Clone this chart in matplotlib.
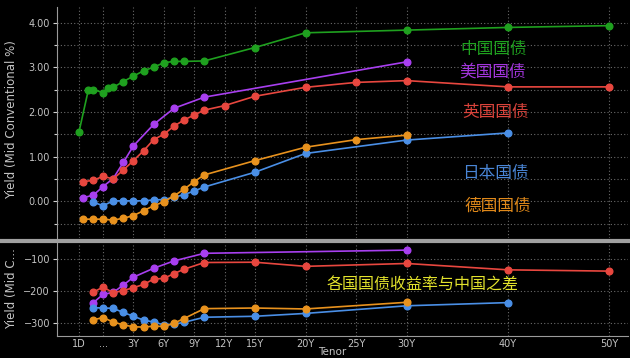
import numpy as np
import matplotlib
matplotlib.use("Agg")
import matplotlib.pyplot as plt
from matplotlib.lines import Line2D

# ---------------- data ----------------
tenor_years = {'1D': 1/365, '1M': 1/12, '2M': 2/12, '3M': 0.25, '6M': 0.5, '9M': 0.75,
               '1Y': 1, '2Y': 2, '3Y': 3, '4Y': 4, '5Y': 5, '6Y': 6, '7Y': 7, '8Y': 8,
               '9Y': 9, '10Y': 10, '12Y': 12, '15Y': 15, '20Y': 20, '25Y': 25,
               '30Y': 30, '40Y': 40, '50Y': 50}

china_tenors = ['1D', '2M', '3M', '6M', '9M', '1Y', '2Y', '3Y', '4Y', '5Y', '6Y', '7Y', '8Y',
                '10Y', '15Y', '20Y', '30Y', '40Y', '50Y']
china = [1.56, 2.50, 2.50, 2.43, 2.53, 2.55, 2.68, 2.80, 2.92, 3.00, 3.10, 3.13, 3.13,
         3.14, 3.44, 3.77, 3.83, 3.89, 3.93]

us_tenors = ['1M', '3M', '6M', '1Y', '2Y', '3Y', '5Y', '7Y', '10Y', '30Y']
us = [0.08, 0.14, 0.33, 0.51, 0.87, 1.24, 1.72, 2.08, 2.33, 3.12]

uk_tenors = ['1M', '3M', '6M', '1Y', '2Y', '3Y', '4Y', '5Y', '6Y', '7Y', '8Y', '9Y', '10Y',
             '12Y', '15Y', '20Y', '25Y', '30Y', '40Y', '50Y']
uk = [0.44, 0.47, 0.56, 0.50, 0.70, 0.91, 1.13, 1.38, 1.50, 1.68, 1.82, 1.93, 2.04,
      2.14, 2.35, 2.55, 2.66, 2.70, 2.56, 2.56]

japan_tenors = ['3M', '6M', '1Y', '2Y', '3Y', '4Y', '5Y', '6Y', '7Y', '8Y', '9Y', '10Y',
                '15Y', '20Y', '30Y', '40Y']
japan = [-0.02, -0.10, 0.01, 0.01, 0.01, 0.01, 0.03, 0.04, 0.09, 0.15, 0.23, 0.32,
         0.65, 1.07, 1.37, 1.53]

germany_tenors = ['1M', '3M', '6M', '1Y', '2Y', '3Y', '4Y', '5Y', '6Y', '7Y', '8Y', '9Y',
                  '10Y', '15Y', '20Y', '25Y', '30Y']
germany = [-0.40, -0.40, -0.40, -0.42, -0.38, -0.32, -0.21, -0.10, -0.01, 0.12, 0.27, 0.44,
           0.59, 0.91, 1.21, 1.38, 1.48]

x_tick_labels = ['1D', '...', '3Y', '6Y', '9Y', '12Y', '15Y', '20Y', '25Y', '30Y', '40Y', '50Y']
x_tick_years = [1/365, 0.5, 3, 6, 9, 12, 15, 20, 25, 30, 40, 50]

names = ['中国国债', '美国国债', '英国国债', '日本国债', '德国国债']
spread_title = '各国国债收益率与中国之差'

# ---------------- styling ----------------
BG = '#000000'
GRID = '#6a6a6a'
TXT = '#c4c4c4'
c_green = '#1fa01f'
c_purple = '#a83ff0'
c_red = '#e8473f'
c_blue = '#4a8fe6'
c_orange = '#e8921e'
c_yellow = '#e2e22c'

plt.rcParams['font.family'] = ['DejaVu Sans']
cjk = ['Noto Sans CJK SC', 'DejaVu Sans']

# Tenor axis: compressed short end, linear in years from 6M on
_ay = [-10.0, 0.0, 1/365, 1/12, 0.25, 0.5, 1.0, 100.0]
_ap = [-12.5, -2.5, -2.37, -1.94, -0.95, 0.0, 1.0, 100.0]

def fwd(t):
    return np.interp(t, _ay, _ap)

def inv(p):
    return np.interp(p, _ap, _ay)

W, H = 630, 358
fig = plt.figure(figsize=(W / 100, H / 100), dpi=100, facecolor=BG)

L = 57 / W
R = 628 / W
ax1 = fig.add_axes([L, (H - 238) / H, R - L, (238 - 7) / H], facecolor=BG)
ax2 = fig.add_axes([L, (H - 336) / H, R - L, (336 - 243) / H], facecolor=BG)

for ax in (ax1, ax2):
    ax.set_xscale('function', functions=(fwd, inv))
    ax.set_xlim(inv(-4.55), inv(51.86))
    ax.set_xticks(x_tick_years)
    for s in ('top', 'right'):
        ax.spines[s].set_visible(False)
    ax.spines['left'].set_color('#9a9a9a')
    ax.spines['bottom'].set_color('#9a9a9a')
    ax.tick_params(axis='both', colors='#d0d0d0', labelcolor=TXT, labelsize=7, length=3,
                   width=0.8, pad=2)
    ax.tick_params(axis='x', length=0)
    ax.grid(True, which='major', color=GRID, linestyle=(0, (1, 2)), linewidth=0.8)
    ax.set_axisbelow(True)

ax1.spines['bottom'].set_visible(False)
ax1.tick_params(axis='x', labelbottom=False)
ax2.set_xticklabels(x_tick_labels)

# top panel y
ax1.set_ylim(-0.821, 4.347)
ax1.set_yticks([0, 1, 2, 3, 4])
ax1.set_yticklabels(['0.00', '1.00', '2.00', '3.00', '4.00'])
ax1.set_yticks([-0.5, 0.5, 1.5, 2.5, 3.5], minor=True)
ax1.tick_params(axis='y', which='minor', colors='#d0d0d0', length=2, width=0.8)
ax1.grid(True, which='minor', axis='y', color=GRID, linestyle=(0, (1, 2)), linewidth=0.8)

# bottom panel y
ax2.set_ylim(-341, -48.6)
ax2.set_yticks([-300, -200, -100])

lw = 1.2
ms = 4.8
series = [
    (china_tenors, china, c_green),
    (us_tenors, us, c_purple),
    (uk_tenors, uk, c_red),
    (japan_tenors, japan, c_blue),
    (germany_tenors, germany, c_orange),
]
for tn, vals, col in series:
    xs = [tenor_years[t] for t in tn]
    ax1.plot(xs, vals, color=col, lw=lw, marker='o', ms=ms, mec=col, mfc=col, zorder=3)

# spreads vs China (bp) at common tenors
china_map = dict(zip(china_tenors, china))
for tn, vals, col in series[1:]:
    common = [(t, v) for t, v in zip(tn, vals) if t in china_map]
    xs = [tenor_years[t] for t, _ in common]
    ys = [(v - china_map[t]) * 100 for t, v in common]
    ax2.plot(xs, ys, color=col, lw=lw, marker='o', ms=ms, mec=col, mfc=col, zorder=3)

# labels
label_pos = [(493.5, 49), (493, 72), (496, 112), (495, 173), (498, 206)]
label_cols = [c_green, '#a235dc', '#d9433b', '#4a86d6', '#e0891a']
for name, (px, py), col in zip(names, label_pos, label_cols):
    fig.text(px / W, 1 - py / H, name, color=col, fontsize=12, family=cjk,
             ha='center', va='center')
fig.text(422.5 / W, 1 - 285.5 / H, spread_title, color=c_yellow, fontsize=11.5,
         family=cjk, ha='center', va='center')

fig.text(12 / W, 1 - 120 / H, 'Yield (Mid Conventional %)', color=TXT, fontsize=8.5,
         rotation=90, ha='center', va='center')
fig.text(12 / W, 1 - 289 / H, 'Yield (Mid C...', color=TXT, fontsize=8.5,
         rotation=90, ha='center', va='center')
fig.text(332 / W, 1.0 / H, 'Tenor', color=TXT, fontsize=7.5, ha='center', va='bottom')

# separator bar
fig.add_artist(Line2D([0, 1], [1 - 240.5 / H, 1 - 240.5 / H], transform=fig.transFigure,
                      color='#a0a0a0', lw=3))

fig.savefig('out.png', dpi=100, facecolor=BG)
